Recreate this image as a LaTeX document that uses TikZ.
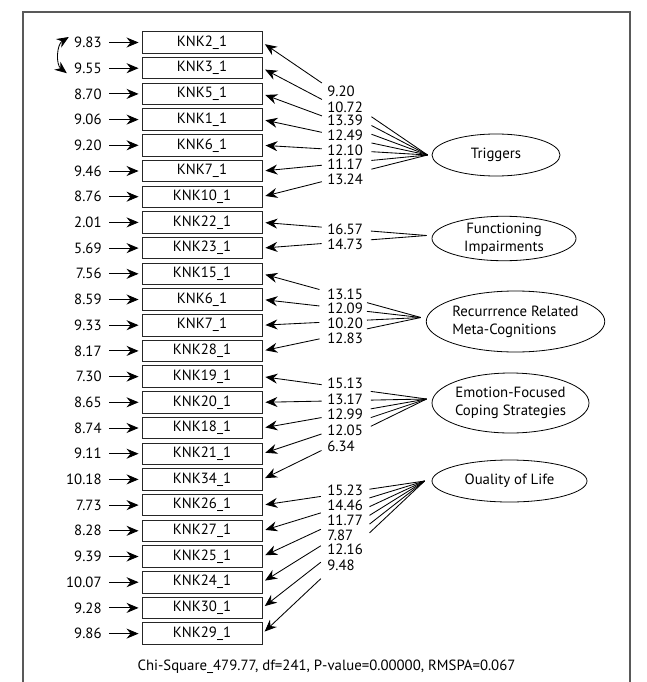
\documentclass[tikz,border=0pt]{standalone}
\usepackage{fontspec}
\setmainfont{PT Sans}
\usetikzlibrary{arrows.meta,calc,shapes.geometric}

\tikzset{
	obs/.style  = {rectangle, draw = black!85, line width = 0.9pt, minimum width = 120pt, minimum height = 21.5pt, inner sep = 0pt},
	lat/.style  = {ellipse, draw, line width = 0.8pt, inner sep = 0pt, align = center},
	val/.style  = {inner sep = 0pt},
	err/.style  = {->, shorten <= 7pt, shorten >= 3pt},
	load/.style = {->, shorten >= 3pt},
	frame/.style = {draw = black!65, line width = 1.3pt}
}

\begin{document}
\begin{tikzpicture}[x=1pt, y=-1pt, line width=0.85pt,
	>={Stealth[length=12pt, width=10pt, inset=4pt]},
	font=\fontsize{14.8pt}{18pt}\selectfont]
	\useasboundingbox (0,0) rectangle (647,682);
	\draw[frame] (23,682) -- (23,12) -- (630,12) -- (630,682);

	% observed variables
	\node (x1)  at (202, 42.5)	[obs]	{KNK2\_1};
	\node (x2)  at (202, 68.2)	[obs]	{KNK3\_1};
	\node (x3)  at (202, 93.9)	[obs]	{KNK5\_1};
	\node (x4)  at (202,119.6)	[obs]	{KNK1\_1};
	\node (x5)  at (202,145.3)	[obs]	{KNK6\_1};
	\node (x6)  at (202,171.0)	[obs]	{KNK7\_1};
	\node (x7)  at (202,196.7)	[obs]	{KNK10\_1};
	\node (x8)  at (202,222.4)	[obs]	{KNK22\_1};
	\node (x9)  at (202,248.1)	[obs]	{KNK23\_1};
	\node (x10) at (202,273.8)	[obs]	{KNK15\_1};
	\node (x11) at (202,299.5)	[obs]	{KNK6\_1};
	\node (x12) at (202,325.2)	[obs]	{KNK7\_1};
	\node (x13) at (202,350.9)	[obs]	{KNK28\_1};
	\node (x14) at (202,376.6)	[obs]	{KNK19\_1};
	\node (x15) at (202,402.3)	[obs]	{KNK20\_1};
	\node (x16) at (202,428.0)	[obs]	{KNK18\_1};
	\node (x17) at (202,453.7)	[obs]	{KNK21\_1};
	\node (x18) at (202,479.4)	[obs]	{KNK34\_1};
	\node (x19) at (202,505.1)	[obs]	{KNK26\_1};
	\node (x20) at (202,530.8)	[obs]	{KNK27\_1};
	\node (x21) at (202,556.5)	[obs]	{KNK25\_1};
	\node (x22) at (202,582.2)	[obs]	{KNK24\_1};
	\node (x23) at (202,607.9)	[obs]	{KNK30\_1};
	\node (x24) at (202,633.6)	[obs]	{KNK29\_1};

	% error variances
	\node (e1)  at (102, 42.5)	[val, anchor = east]	{9.83};
	\node (e2)  at (102, 68.2)	[val, anchor = east]	{9.55};
	\node (e3)  at (102, 93.9)	[val, anchor = east]	{8.70};
	\node (e4)  at (102,119.6)	[val, anchor = east]	{9.06};
	\node (e5)  at (102,145.3)	[val, anchor = east]	{9.20};
	\node (e6)  at (102,171.0)	[val, anchor = east]	{9.46};
	\node (e7)  at (102,196.7)	[val, anchor = east]	{8.76};
	\node (e8)  at (102,222.4)	[val, anchor = east]	{2.01};
	\node (e9)  at (102,248.1)	[val, anchor = east]	{5.69};
	\node (e10) at (102,273.8)	[val, anchor = east]	{7.56};
	\node (e11) at (102,299.5)	[val, anchor = east]	{8.59};
	\node (e12) at (102,325.2)	[val, anchor = east]	{9.33};
	\node (e13) at (102,350.9)	[val, anchor = east]	{8.17};
	\node (e14) at (102,376.6)	[val, anchor = east]	{7.30};
	\node (e15) at (102,402.3)	[val, anchor = east]	{8.65};
	\node (e16) at (102,428.0)	[val, anchor = east]	{8.74};
	\node (e17) at (102,453.7)	[val, anchor = east]	{9.11};
	\node (e18) at (102,479.4)	[val, anchor = east]	{10.18};
	\node (e19) at (102,505.1)	[val, anchor = east]	{7.73};
	\node (e20) at (102,530.8)	[val, anchor = east]	{8.28};
	\node (e21) at (102,556.5)	[val, anchor = east]	{9.39};
	\node (e22) at (102,582.2)	[val, anchor = east]	{10.07};
	\node (e23) at (102,607.9)	[val, anchor = east]	{9.28};
	\node (e24) at (102,633.6)	[val, anchor = east]	{9.86};

	% latent variables
	\node (T) at (496.0,155.0)	[lat, minimum width = 128pt, minimum height = 42pt]	{Triggers};
	\node (F) at (504.0,238.5)	[lat, minimum width = 144pt, minimum height = 43pt]	{Functioning\\Impairments};
	\node (R) at (515.5,321.5)	[lat, minimum width = 167pt, minimum height = 61pt, align = left]	{Recurrrence Related\\Meta-Cognitions};
	\node (E) at (510.5,403.0)	[lat, minimum width = 157pt, minimum height = 60pt]	{Emotion-Focused\\Coping Strategies};
	\node (Q) at (509.5,481.0)	[lat, minimum width = 155pt, minimum height = 42pt]	{Ouality of Life};

	\coordinate (Tc) at ([xshift = -4pt]T.west);
	\coordinate (Fc) at ([shift = {(-5,-3)}]F.west);
	\coordinate (Rc) at ([shift = {(-5,-4)}]R.west);
	\coordinate (Ec) at ([shift = {(-5,-4)}]E.west);
	\coordinate (Qc) at ([xshift = -7pt]Q.west);

	% loadings
	\node (l1)  at (327, 91.0)	[val, anchor = west]	{9.20};
	\node (l2)  at (327,107.3)	[val, anchor = west]	{10.72};
	\node (l3)  at (327,120.7)	[val, anchor = west]	{13.39};
	\node (l4)  at (327,135.7)	[val, anchor = west]	{12.49};
	\node (l5)  at (327,150.7)	[val, anchor = west]	{12.10};
	\node (l6)  at (327,164.3)	[val, anchor = west]	{11.17};
	\node (l7)  at (327,179.3)	[val, anchor = west]	{13.24};
	\node (l8)  at (327,229.0)	[val, anchor = west]	{16.57};
	\node (l9)  at (327,244.0)	[val, anchor = west]	{14.73};
	\node (l10) at (327,294.0)	[val, anchor = west]	{13.15};
	\node (l11) at (327,308.5)	[val, anchor = west]	{12.09};
	\node (l12) at (327,323.5)	[val, anchor = west]	{10.20};
	\node (l13) at (327,338.3)	[val, anchor = west]	{12.83};
	\node (l14) at (327,383.3)	[val, anchor = west]	{15.13};
	\node (l15) at (327,399.3)	[val, anchor = west]	{13.17};
	\node (l16) at (327,414.0)	[val, anchor = west]	{12.99};
	\node (l17) at (327,430.0)	[val, anchor = west]	{12.05};
	\node (l18) at (327,446.7)	[val, anchor = west]	{6.34};
	\node (l19) at (327,490.0)	[val, anchor = west]	{15.23};
	\node (l20) at (327,505.0)	[val, anchor = west]	{14.46};
	\node (l21) at (327,520.0)	[val, anchor = west]	{11.77};
	\node (l22) at (327,535.0)	[val, anchor = west]	{7.87};
	\node (l23) at (327,549.3)	[val, anchor = west]	{12.16};
	\node (l24) at (327,565.0)	[val, anchor = west]	{9.48};

	\node (fit) at (326.5,667)	[val]	{Chi-Square\_479.77, df=241, P-value=0.00000, RMSPA=0.067};

	% error arrows
	\draw[err] (e1)  -- (x1);
	\draw[err] (e2)  -- (x2);
	\draw[err] (e3)  -- (x3);
	\draw[err] (e4)  -- (x4);
	\draw[err] (e5)  -- (x5);
	\draw[err] (e6)  -- (x6);
	\draw[err] (e7)  -- (x7);
	\draw[err] (e8)  -- (x8);
	\draw[err] (e9)  -- (x9);
	\draw[err] (e10) -- (x10);
	\draw[err] (e11) -- (x11);
	\draw[err] (e12) -- (x12);
	\draw[err] (e13) -- (x13);
	\draw[err] (e14) -- (x14);
	\draw[err] (e15) -- (x15);
	\draw[err] (e16) -- (x16);
	\draw[err] (e17) -- (x17);
	\draw[err] (e18) -- (x18);
	\draw[err] (e19) -- (x19);
	\draw[err] (e20) -- (x20);
	\draw[err] (e21) -- (x21);
	\draw[err] (e22) -- (x22);
	\draw[err] (e23) -- (x23);
	\draw[err] (e24) -- (x24);

	% error covariance
	\coordinate (c1) at ([shift = {(-5,-5.5)}]e1.west);
	\coordinate (c2) at ([shift = {(-7,5)}]e2.west);
	\draw[<->] (c1) to[bend right = 55] (c2);

	% factor paths, broken where the values stand
	\draw[load] (Tc) -- ($(Tc)!.34!(x1.east)$)  ($(Tc)!.64!(x1.east)$)  -- (x1.east);
	\draw[load] (Tc) -- ($(Tc)!.34!(x2.east)$)  ($(Tc)!.64!(x2.east)$)  -- (x2.east);
	\draw[load] (Tc) -- ($(Tc)!.34!(x3.east)$)  ($(Tc)!.64!(x3.east)$)  -- (x3.east);
	\draw[load] (Tc) -- ($(Tc)!.34!(x4.east)$)  ($(Tc)!.64!(x4.east)$)  -- (x4.east);
	\draw[load] (Tc) -- ($(Tc)!.34!(x5.east)$)  ($(Tc)!.64!(x5.east)$)  -- (x5.east);
	\draw[load] (Tc) -- ($(Tc)!.34!(x6.east)$)  ($(Tc)!.64!(x6.east)$)  -- (x6.east);
	\draw[load] (Tc) -- ($(Tc)!.34!(x7.east)$)  ($(Tc)!.64!(x7.east)$)  -- (x7.east);
	\draw[load] (Fc) -- ($(Fc)!.34!(x8.east)$)  ($(Fc)!.64!(x8.east)$)  -- (x8.east);
	\draw[load] (Fc) -- ($(Fc)!.34!(x9.east)$)  ($(Fc)!.64!(x9.east)$)  -- (x9.east);
	\draw[load] (Rc) -- ($(Rc)!.34!(x10.east)$) ($(Rc)!.64!(x10.east)$) -- (x10.east);
	\draw[load] (Rc) -- ($(Rc)!.34!(x11.east)$) ($(Rc)!.64!(x11.east)$) -- (x11.east);
	\draw[load] (Rc) -- ($(Rc)!.34!(x12.east)$) ($(Rc)!.64!(x12.east)$) -- (x12.east);
	\draw[load] (Rc) -- ($(Rc)!.34!(x13.east)$) ($(Rc)!.64!(x13.east)$) -- (x13.east);
	\draw[load] (Ec) -- ($(Ec)!.34!(x14.east)$) ($(Ec)!.64!(x14.east)$) -- (x14.east);
	\draw[load] (Ec) -- ($(Ec)!.34!(x15.east)$) ($(Ec)!.64!(x15.east)$) -- (x15.east);
	\draw[load] (Ec) -- ($(Ec)!.34!(x16.east)$) ($(Ec)!.64!(x16.east)$) -- (x16.east);
	\draw[load] (Ec) -- ($(Ec)!.34!(x17.east)$) ($(Ec)!.64!(x17.east)$) -- (x17.east);
	\draw[load] (Ec) -- ($(Ec)!.34!(x18.east)$) ($(Ec)!.64!(x18.east)$) -- (x18.east);
	\draw[load] (Qc) -- ($(Qc)!.34!(x19.east)$) ($(Qc)!.64!(x19.east)$) -- (x19.east);
	\draw[load] (Qc) -- ($(Qc)!.34!(x20.east)$) ($(Qc)!.64!(x20.east)$) -- (x20.east);
	\draw[load] (Qc) -- ($(Qc)!.34!(x21.east)$) ($(Qc)!.64!(x21.east)$) -- (x21.east);
	\draw[load] (Qc) -- ($(Qc)!.34!(x22.east)$) ($(Qc)!.64!(x22.east)$) -- (x22.east);
	\draw[load] (Qc) -- ($(Qc)!.34!(x23.east)$) ($(Qc)!.64!(x23.east)$) -- (x23.east);
	\draw[load] (Qc) -- ($(Qc)!.34!(x24.east)$) ($(Qc)!.64!(x24.east)$) -- (x24.east);
\end{tikzpicture}
\end{document}
